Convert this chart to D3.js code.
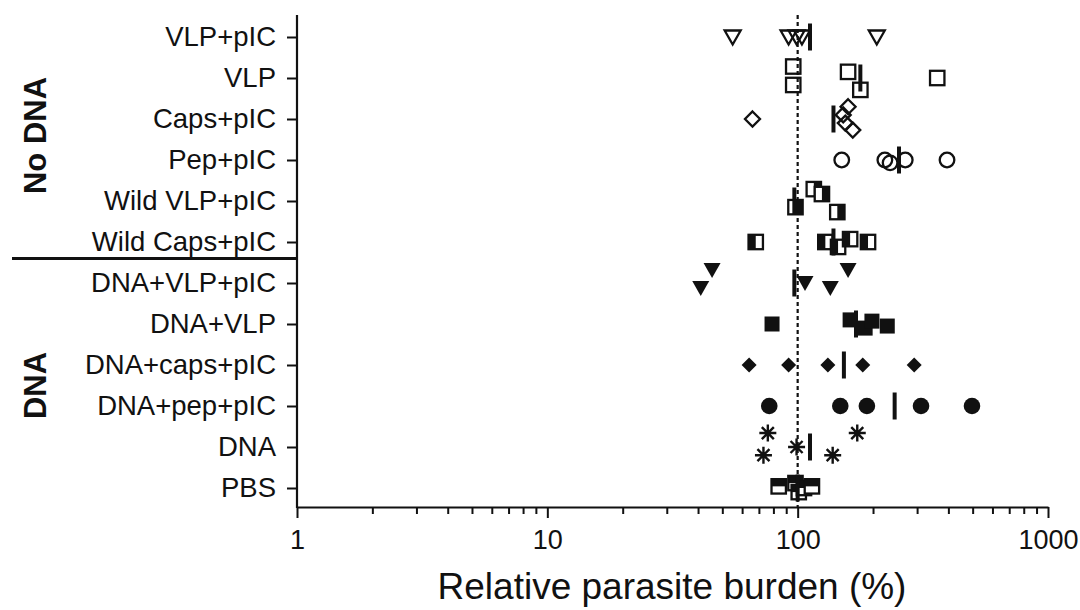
<!DOCTYPE html>
<html>
<head>
<meta charset="utf-8">
<script src="https://cdn.jsdelivr.net/npm/d3@7"></script>
<style>
  html, body { margin: 0; padding: 0; background: #fff; }
  svg { display: block; font-family: "Liberation Sans", Arial, sans-serif; }
</style>
</head>
<body>
<svg id="chart" width="1080" height="610"></svg>
<script>
// ---------------- data ----------------
const categories = ["VLP+pIC", "VLP", "Caps+pIC", "Pep+pIC", "Wild VLP+pIC", "Wild Caps+pIC",
                    "DNA+VLP+pIC", "DNA+VLP", "DNA+caps+pIC", "DNA+pep+pIC", "DNA", "PBS"];
const markerTypes = ["triOpen", "squareOpen", "diamondOpen", "circleOpen", "halfRight", "halfLeft",
                     "triFilled", "squareFilled", "diamondFilled", "circleFilled", "asterisk", "halfTop"];
const values = [
  [55, 92, 99, 104, 207],
  [96, 96, 159, 178, 361],
  [66, 152, 155, 159, 166],
  [150, 223, 234, 269, 395],
  [98, 116, 125, 144],
  [68, 129, 145, 162, 191],
  [41, 45.5, 107, 135, 159],
  [79, 162, 186, 198, 228],
  [64, 92, 132, 182, 292],
  [77, 148, 189, 311, 497],
  [73, 76, 99, 138, 173],
  [84, 98, 101, 106, 114]
];
// vertical dodge of overlapping points, in units of one category step
const dodge = [
  [0, 0, 0, 0, 0],
  [-0.28, 0.17, -0.15, 0.29, 0],
  [0, -0.1, 0.1, -0.3, 0.27],
  [0, 0, 0.07, 0, 0],
  [0.15, -0.29, -0.17, 0.27],
  [0, 0, 0.12, -0.07, 0],
  [0.12, -0.32, 0, 0.12, -0.32],
  [0, -0.1, 0.1, -0.07, 0.05],
  [0, 0, 0, 0, 0],
  [0, 0, 0, 0, 0],
  [0.2, -0.34, 0, 0.2, -0.34],
  [-0.04, -0.12, 0.1, 0, -0.04]
];
const means = [112, 178, 139, 254, 97, 139, 97, 171, 153, 244, 112, 100];
const xTickValues = [1, 10, 100, 1000];
const xTickLabels = ["1", "10", "100", "1000"];
const referenceValue = 100;
const groupLabels = ["No DNA", "DNA"];
const xTitle = "Relative parasite burden (%)";

// ---------------- layout ----------------
const svg = d3.select("#chart");
const ink = "#111";
const plotLeft = 297, plotRight = 1048, plotTop = 15, plotBottom = 507;

const x = d3.scaleLog().domain([1, 1000]).range([plotLeft, plotRight]);
const y = d3.scalePoint().domain(categories).range([37, 488]);
const step = y.step();

// reference dashed line
svg.append("line")
  .attr("x1", x(referenceValue)).attr("x2", x(referenceValue))
  .attr("y1", plotTop).attr("y2", plotBottom)
  .attr("stroke", ink).attr("stroke-width", 2.2)
  .attr("stroke-dasharray", "4,3");

// y axis
const yAxis = svg.append("g")
  .attr("transform", `translate(${plotLeft},0)`)
  .call(d3.axisLeft(y).tickSize(10).tickPadding(11).tickSizeOuter(0));
yAxis.select(".domain").remove();
yAxis.selectAll(".tick line").attr("stroke", ink).attr("stroke-width", 2);
yAxis.selectAll(".tick text").attr("fill", ink).attr("font-size", 27.5)
  .attr("font-family", "Liberation Sans, Arial, sans-serif");
svg.append("line").attr("x1", plotLeft).attr("x2", plotLeft).attr("y1", plotTop).attr("y2", plotBottom + 1)
  .attr("stroke", ink).attr("stroke-width", 2.2);

// x axis (major + minor ticks)
const minorTicks = [];
for (let d = 1; d < 1000; d *= 10) for (let k = 2; k <= 9; k++) minorTicks.push(d * k);
const xMinor = svg.append("g").attr("transform", `translate(0,${plotBottom})`)
  .call(d3.axisBottom(x).tickValues(minorTicks).tickSize(7).tickFormat(""));
xMinor.select(".domain").remove();
xMinor.selectAll(".tick line").attr("stroke", ink).attr("stroke-width", 2);

const xAxis = svg.append("g").attr("transform", `translate(0,${plotBottom})`)
  .call(d3.axisBottom(x).tickValues(xTickValues).tickSize(11).tickSizeOuter(0).tickPadding(12)
        .tickFormat((d, i) => xTickLabels[i]));
xAxis.select(".domain").attr("stroke", ink).attr("stroke-width", 2.2);
xAxis.selectAll(".tick line").attr("stroke", ink).attr("stroke-width", 2);
xAxis.selectAll(".tick text").attr("fill", ink).attr("font-size", 27)
  .attr("font-family", "Liberation Sans, Arial, sans-serif");

// x title
svg.append("text").attr("x", 672).attr("y", 599).attr("text-anchor", "middle")
  .attr("font-size", 37).attr("fill", ink).text(xTitle);

// separator line between groups
const sepY = (y(categories[5]) + y(categories[6])) / 2 - 4;
svg.append("line").attr("x1", 12).attr("x2", plotLeft).attr("y1", sepY).attr("y2", sepY)
  .attr("stroke", ink).attr("stroke-width", 3);

// group labels
const groupCenters = [
  (y(categories[0]) + y(categories[5])) / 2 - 4,
  (y(categories[6]) + y(categories[11])) / 2 + 0
];
groupLabels.forEach((t, i) => {
  svg.append("text")
    .attr("transform", `translate(46,${groupCenters[i]}) rotate(-90)`)
    .attr("text-anchor", "middle").attr("font-weight", "bold")
    .attr("font-size", 31).attr("fill", ink).text(t);
});

// ---------------- markers ----------------
function drawMarker(g, type) {
  const sw = 2.3;
  switch (type) {
    case "triOpen":
      g.append("path").attr("d", "M-8,-6.5L8,-6.5L0,7.5Z").attr("fill", "none")
        .attr("stroke", ink).attr("stroke-width", sw).attr("stroke-linejoin", "miter");
      break;
    case "triFilled":
      g.append("path").attr("d", "M-8.5,-7L8.5,-7L0,8Z").attr("fill", ink);
      break;
    case "squareOpen":
      g.append("rect").attr("x", -7.2).attr("y", -7.2).attr("width", 14.4).attr("height", 14.4)
        .attr("fill", "none").attr("stroke", ink).attr("stroke-width", sw);
      break;
    case "squareFilled":
      g.append("rect").attr("x", -7.5).attr("y", -7.5).attr("width", 15).attr("height", 15).attr("fill", ink);
      break;
    case "diamondOpen":
      g.append("path").attr("d", "M0,-7.5L7.5,0L0,7.5L-7.5,0Z").attr("fill", "none")
        .attr("stroke", ink).attr("stroke-width", sw);
      break;
    case "diamondFilled":
      g.append("path").attr("d", "M0,-7.5L7.5,0L0,7.5L-7.5,0Z").attr("fill", ink);
      break;
    case "circleOpen":
      g.append("circle").attr("r", 7.3).attr("fill", "none").attr("stroke", ink).attr("stroke-width", sw);
      break;
    case "circleFilled":
      g.append("circle").attr("r", 8.3).attr("fill", ink);
      break;
    case "halfRight":
    case "halfLeft":
    case "halfTop": {
      g.append("rect").attr("x", -7.2).attr("y", -7.2).attr("width", 14.4).attr("height", 14.4)
        .attr("fill", "#fff").attr("stroke", ink).attr("stroke-width", sw);
      const r = g.append("rect").attr("fill", ink);
      if (type === "halfRight") r.attr("x", 0).attr("y", -7.2).attr("width", 7.2).attr("height", 14.4);
      if (type === "halfLeft") r.attr("x", -7.2).attr("y", -7.2).attr("width", 7.2).attr("height", 14.4);
      if (type === "halfTop") r.attr("x", -7.2).attr("y", -7.2).attr("width", 14.4).attr("height", 7.2);
      break;
    }
    case "asterisk": {
      const L = 8.5, d = L * Math.SQRT1_2;
      g.append("path")
        .attr("d", `M${-L},0L${L},0M0,${-L}L0,${L}M${-d},${-d}L${d},${d}M${-d},${d}L${d},${-d}`)
        .attr("stroke", ink).attr("stroke-width", 2.4).attr("fill", "none");
      break;
    }
  }
}

const points = [];
categories.forEach((c, i) => {
  values[i].forEach((v, j) => points.push({ c, v, type: markerTypes[i], off: dodge[i][j] }));
});

svg.append("g").selectAll("g.pt").data(points).join("g")
  .attr("class", "pt")
  .attr("transform", d => `translate(${x(d.v)},${y(d.c) + d.off * step})`)
  .each(function (d) { drawMarker(d3.select(this), d.type); });

// mean bars
svg.append("g").selectAll("line.mean").data(categories).join("line")
  .attr("class", "mean")
  .attr("x1", (c, i) => x(means[i])).attr("x2", (c, i) => x(means[i]))
  .attr("y1", c => y(c) - 13.5).attr("y2", c => y(c) + 13.5)
  .attr("stroke", ink).attr("stroke-width", 4);
</script>
</body>
</html>
